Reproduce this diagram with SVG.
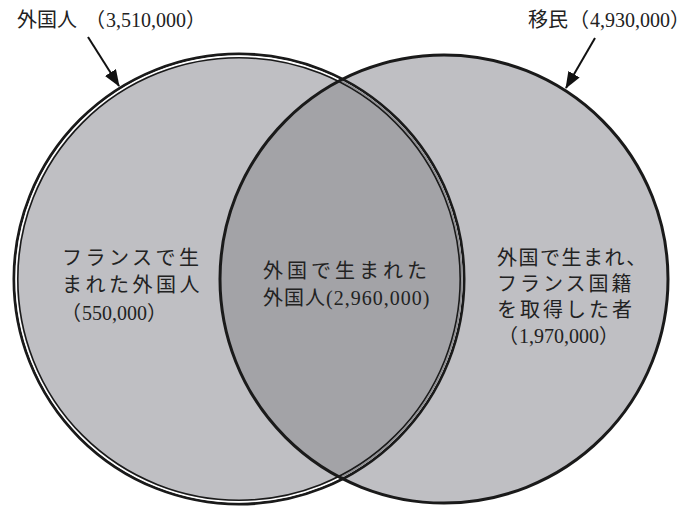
<svg xmlns="http://www.w3.org/2000/svg" width="693" height="508" viewBox="0 0 693 508">
<style>
.t{font-family:"Liberation Serif","Noto Sans CJK JP",serif;font-size:20px;fill:#222}
.fill{fill:#bfbfc3}
.ov{fill:#a3a3a7}
.blk{fill:none;stroke:#1a1a1a}
.arr{stroke:#111;stroke-width:2;fill:none}
</style>
<defs>
<clipPath id="clipL"><circle cx="239" cy="279" r="225"/></clipPath>
<clipPath id="clipR"><circle cx="444" cy="279" r="224"/></clipPath>
<marker id="ah" markerUnits="userSpaceOnUse" markerWidth="17" markerHeight="13" refX="16" refY="6.5" orient="auto" viewBox="0 0 17 13">
<path d="M0,0 L17,6.5 L0,13 z" fill="#111"/>
</marker>
</defs>
<rect width="693" height="508" fill="#fff"/>
<g id="node-foreigners">
<circle class="fill" cx="239" cy="279" r="225"/>
</g>
<g id="node-immigrants">
<circle class="fill" cx="444" cy="279" r="224"/>
</g>
<g id="node-overlap">
<circle class="ov" cx="444" cy="279" r="224" clip-path="url(#clipL)"/>
</g>
<g id="rings">
<circle class="blk" cx="239" cy="279" r="225" stroke-width="3"/>
<circle fill="none" stroke="#fff" stroke-width="1.6" cx="239" cy="279" r="222.9"/>
<circle fill="none" stroke="#8e8e92" stroke-width="1.6" cx="239" cy="279" r="222.9" clip-path="url(#clipR)"/>
<circle class="blk" cx="239" cy="279" r="221.2" stroke-width="1.6"/>
<circle class="blk" cx="444" cy="279" r="224" stroke-width="3"/>
</g>
<g id="connectors">
<line class="arr" x1="88" y1="37" x2="119" y2="86" marker-end="url(#ah)"/>
<line class="arr" x1="595" y1="38" x2="566" y2="88" marker-end="url(#ah)"/>
</g>
<g id="label-foreigners">
<text class="t" x="17" y="27">外国人<tspan x="85">（</tspan><tspan x="106">3,510,000</tspan>）</text>
</g>
<g id="label-immigrants">
<text class="t" x="528" y="27">移民<tspan x="569">（</tspan><tspan x="590">4,930,000</tspan>）</text>
</g>
<g id="text-left">
<text class="t" x="62" y="265" letter-spacing="3.5">フランスで生</text>
<text class="t" x="62" y="292" letter-spacing="3.5">まれた外国人</text>
<text class="t" x="61" y="320">（<tspan x="82">550,000</tspan>）</text>
</g>
<g id="text-center">
<text class="t" x="263" y="278" letter-spacing="4">外国で生まれた</text>
<text class="t" x="263" y="305" letter-spacing="1">外国人(2,960,000)</text>
</g>
<g id="text-right">
<text class="t" x="497" y="265" letter-spacing="1.5">外国で生まれ、</text>
<text class="t" x="497" y="291" letter-spacing="3">フランス国籍</text>
<text class="t" x="497" y="317" letter-spacing="3">を取得した者</text>
<text class="t" x="498" y="343">（<tspan x="519">1,970,000</tspan>）</text>
</g>
</svg>
